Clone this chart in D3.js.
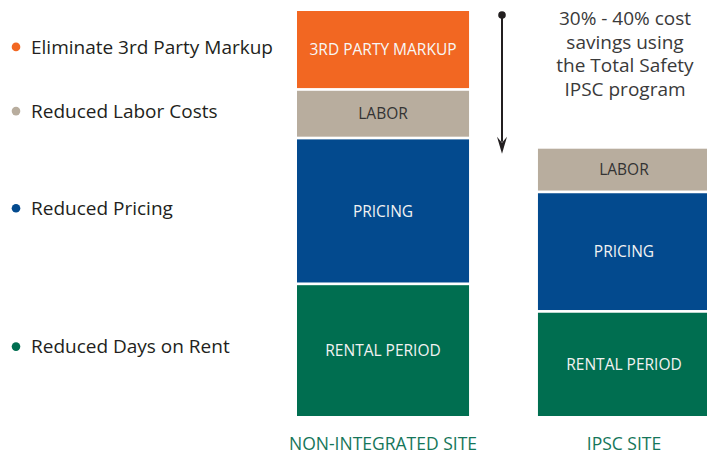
<!DOCTYPE html>
<html>
<head>
<meta charset="utf-8">
<script src="https://cdn.jsdelivr.net/npm/d3@7"></script>
<style>
    body { margin: 0; background: #fff; }
    text { font-family: "Open Sans", "Noto Sans", sans-serif; }
</style>
</head>
<body>
<div id="chart-area"></div>
<script>
// stacked cost bars, non-integrated vs ipsc

let sites = ["NON-INTEGRATED SITE", "IPSC SITE"];
let segments = ["RENTAL PERIOD", "PRICING", "LABOR", "3RD PARTY MARKUP"];
let legendLabels = ["Reduced Days on Rent", "Reduced Pricing", "Reduced Labor Costs", "Eliminate 3rd Party Markup"];

// share of cost, non-integrated total = 100
let nonIntegrated = [32.3, 36, 12, 19.7];
let ipsc = [25.5, 29.5, 11, 0];

let noteLines = ["30% - 40% cost", "savings using", "the Total Safety", "IPSC program"];

let colors = ["#006e50", "#034a8e", "#b8ad9e", "#f26722"];
let textColors = ["#f2f2f2", "#f2f2f2", "#333333", "#f7f7f7"];

let width = 707, height = 454;

let svg = d3.select("#chart-area").append("svg")
    .attr("width", width)
    .attr("height", height);

let x = d3.scaleBand()
    .domain(sites)
    .range([297, 710])
    .paddingInner(0.286)
    .paddingOuter(0);

let y = d3.scaleLinear()
    .domain([0, 100])
    .range([416, 11]);

let gap = 2.7;

// build stacks
function stack(values) {
    let out = [];
    let base = 0;
    values.forEach(function (v, i) {
        if (v > 0) out.push({seg: i, y0: base, y1: base + v});
        base += v;
    });
    return out;
}

let data = [
    {site: sites[0], parts: stack(nonIntegrated)},
    {site: sites[1], parts: stack(ipsc)}
];

let groups = svg.selectAll(".site")
    .data(data)
    .enter().append("g")
    .attr("class", "site");

groups.selectAll("rect")
    .data(d => d.parts.map(p => Object.assign({site: d.site}, p)))
    .enter().append("rect")
    .attr("x", d => x(d.site))
    .attr("width", x.bandwidth())
    .attr("y", d => y(d.y1))
    .attr("height", d => y(d.y0) - y(d.y1) - (d.y0 > 0 ? gap : 0))
    .attr("fill", d => colors[d.seg]);

groups.selectAll("text.seg")
    .data(d => d.parts.map(p => Object.assign({site: d.site}, p)))
    .enter().append("text")
    .attr("class", "seg")
    .attr("x", d => x(d.site) + x.bandwidth() / 2)
    .attr("y", d => (y(d.y0) - (d.y0 > 0 ? gap : 0) + y(d.y1)) / 2)
    .attr("dy", "0.36em")
    .attr("text-anchor", "middle")
    .style("font-size", "15.5px")
    .attr("fill", d => textColors[d.seg])
    .text(d => segments[d.seg]);

// site labels
svg.selectAll(".site-label")
    .data(sites)
    .enter().append("text")
    .attr("class", "site-label")
    .attr("x", d => x(d) + x.bandwidth() / 2)
    .attr("y", 450)
    .attr("text-anchor", "middle")
    .style("font-size", "17.5px")
    .attr("fill", "#15765a")
    .text(d => d);

// legend, lined up with the first bar
let legend = svg.selectAll(".legend")
    .data(data[0].parts)
    .enter().append("g")
    .attr("class", "legend")
    .attr("transform", d => "translate(0," + ((y(d.y0) + y(d.y1)) / 2 - 4) + ")");

legend.append("circle")
    .attr("cx", 16)
    .attr("cy", 0)
    .attr("r", 4.3)
    .attr("fill", d => colors[d.seg]);

legend.append("text")
    .attr("x", 31)
    .attr("dy", "0.36em")
    .style("font-size", "19px")
    .attr("fill", "#231f20")
    .text(d => legendLabels[d.seg]);

// savings arrow
let arrowX = 502;
let ipscTotal = d3.sum(ipsc);
let y1 = y(100) + 4, y2 = y(ipscTotal) + 5;

svg.append("line")
    .attr("x1", arrowX).attr("x2", arrowX)
    .attr("y1", y1).attr("y2", y2 - 12)
    .attr("stroke", "#231f20")
    .attr("stroke-width", 2);

svg.append("circle")
    .attr("cx", arrowX).attr("cy", y1)
    .attr("r", 3.8)
    .attr("fill", "#231f20");

svg.append("path")
    .attr("d", d3.line()([[arrowX - 5, y2 - 17], [arrowX, y2 - 11], [arrowX + 5, y2 - 17], [arrowX, y2]]) + "Z")
    .attr("fill", "#231f20");

svg.append("text")
    .attr("x", 625)
    .attr("y", 25)
    .attr("text-anchor", "middle")
    .style("font-size", "19px")
    .attr("fill", "#3a3a3a")
    .selectAll("tspan")
    .data(noteLines)
    .enter().append("tspan")
    .attr("x", 625)
    .attr("dy", (d, i) => i === 0 ? 0 : 23.5)
    .text(d => d);
</script>
</body>
</html>
